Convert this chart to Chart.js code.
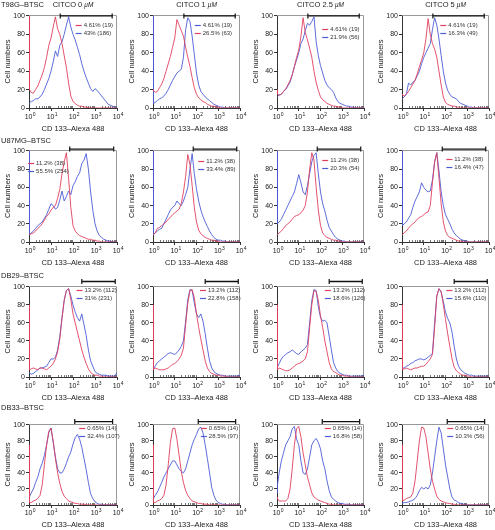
<!DOCTYPE html>
<html>
<head>
<meta charset="utf-8">
<script src="https://cdn.jsdelivr.net/npm/chart.js@4.4.1/dist/chart.umd.min.js"></script>
<style>
	body { margin: 0; background: #fff; width: 495px; height: 530px; position: relative; overflow: hidden; font-family: "Liberation Sans", Arial, sans-serif; color: #222; }
	canvas { position: absolute; }
	.lbl { position: absolute; font-size: 7.5px; white-space: nowrap; }
	.col { transform: translateX(-50%); }
	.mu { font-size: 6.5px; font-style: italic; }
</style>
</head>
<body>
<script>
// log10 of the fluorescence, the x position of every histogram point
const logX = [0, 0.02, 0.1, 0.2, 0.3, 0.4, 0.5, 0.6, 0.7, 0.8, 0.9, 1.0,
	1.1, 1.2, 1.3, 1.4, 1.5, 1.6, 1.7, 1.8, 1.9, 2.0,
	2.1, 2.2, 2.3, 2.4, 2.5, 2.6, 2.7, 2.8, 2.9, 3.0,
	3.1, 3.2, 3.3, 3.4, 3.5, 3.6, 3.7, 3.8, 3.9, 4.0];
const xTicks = [0, 1, 2, 3, 4];
const yTicks = [0, 20, 40, 60, 80, 100];
const rowNames = ['T98G–BTSC', 'U87MG–BTSC', 'DB29–BTSC', 'DB33–BTSC'];
const doses = ['0', '1', '2.5', '5'];

const t98gRed0 = [100, 20, 17, 16, 20, 24, 30, 36, 44, 55, 68, 76, 88, 99, 86, 80, 70, 57, 44, 27, 13, 7, 5, 3, 2, 2, 1, 1, 0.5, 0, 0, 0, 0, 0, 0, 0, 0, 0, 0, 0, 0, 0];
const t98gBlue0 = [5, 5, 7, 8, 10, 10, 12, 15, 20, 26, 32, 40, 50, 62, 56, 68, 72, 80, 90, 99, 88, 80, 74, 66, 58, 48, 40, 33, 27, 21, 18, 21, 19, 16, 13, 10, 7, 4, 3, 2, 1, 1];
const t98gRed1 = [20, 19, 17, 18, 22, 26, 32, 40, 48, 56, 66, 76, 96, 90, 84, 78, 66, 55, 45, 33, 22, 15, 11, 9, 7, 6, 4, 3, 2, 2, 1, 1, 0, 0, 0, 0, 0, 0, 0, 0, 0, 0];
const t98gBlue1 = [100, 5, 6, 8, 10, 11, 13, 16, 20, 25, 30, 34, 38, 40, 42, 55, 85, 98, 94, 78, 58, 38, 25, 18, 15, 12, 10, 8, 6, 4, 3, 2, 1, 1, 0, 0, 0, 0, 0, 0, 0, 0];
const t98gRed2 = [20, 15, 14, 15, 18, 21, 25, 30, 36, 45, 55, 63, 78, 98, 82, 74, 65, 55, 40, 28, 19, 12, 9, 7, 5, 4, 3, 2, 2, 1, 1, 0, 0, 0, 0, 0, 0, 0, 0, 0, 0, 0];
const t98gBlue2 = [12, 12, 14, 15, 18, 20, 24, 28, 36, 45, 52, 60, 70, 75, 84, 92, 90, 94, 99, 72, 57, 46, 38, 30, 25, 22, 20, 17, 11, 7, 5, 4, 3, 2, 2, 1, 1, 0, 0, 0, 0, 0];
const t98gRed3 = [15, 14, 13, 15, 18, 22, 26, 30, 37, 45, 52, 60, 75, 97, 80, 70, 64, 55, 40, 25, 12, 6, 4, 3, 2, 2, 1, 1, 0, 0, 0, 0, 0, 0, 0, 0, 0, 0, 0, 0, 0, 0];
const t98gBlue3 = [10, 10, 12, 15, 27, 25, 28, 30, 35, 40, 48, 55, 60, 65, 70, 85, 98, 90, 75, 57, 40, 27, 19, 15, 12, 11, 10, 7, 5, 4, 3, 2, 1, 1, 0, 0, 0, 0, 0, 0, 0, 0];

const u87Red0 = [8, 8, 9, 10, 12, 15, 17, 20, 24, 28, 31, 35, 38, 40, 48, 58, 75, 88, 98, 70, 38, 18, 12, 9, 7, 6, 5, 4, 3, 3, 2, 2, 1, 1, 0, 0, 0, 0, 0, 0, 0, 0];
const u87Blue0 = [100, 8, 10, 12, 15, 18, 20, 22, 26, 30, 36, 42, 40, 36, 38, 46, 56, 45, 50, 56, 52, 62, 66, 72, 76, 86, 90, 97, 80, 55, 35, 20, 12, 7, 5, 3, 2, 1, 1, 0, 0, 0];
const u87Red1 = [8, 8, 10, 15, 16, 18, 20, 22, 25, 27, 30, 32, 34, 36, 42, 55, 72, 96, 85, 62, 38, 22, 13, 9, 7, 5, 4, 3, 2, 2, 1, 1, 0, 0, 0, 0, 0, 0, 0, 0, 0, 0];
const u87Blue1 = [100, 8, 10, 12, 14, 15, 20, 25, 30, 35, 38, 40, 45, 42, 40, 45, 52, 60, 80, 97, 75, 58, 45, 35, 28, 22, 17, 12, 8, 5, 3, 2, 2, 1, 1, 0, 0, 0, 0, 0, 0, 0];
const u87Red2 = [8, 8, 10, 12, 15, 18, 20, 22, 25, 28, 29, 30, 32, 35, 40, 55, 80, 98, 90, 60, 35, 18, 10, 7, 5, 4, 3, 2, 2, 1, 1, 0, 0, 0, 0, 0, 0, 0, 0, 0, 0, 0];
const u87Blue2 = [100, 20, 22, 25, 30, 35, 40, 45, 50, 55, 64, 74, 65, 55, 52, 62, 75, 88, 95, 98, 75, 55, 42, 34, 24, 16, 12, 8, 5, 3, 2, 1, 1, 0, 0, 0, 0, 0, 0, 0, 0, 0];
const u87Red3 = [8, 8, 10, 12, 15, 18, 20, 22, 25, 27, 28, 30, 32, 33, 40, 65, 88, 98, 70, 42, 22, 12, 7, 5, 4, 3, 2, 1, 1, 0, 0, 0, 0, 0, 0, 0, 0, 0, 0, 0, 0, 0];
const u87Blue3 = [100, 18, 20, 22, 26, 30, 38, 45, 50, 55, 65, 60, 57, 55, 56, 68, 88, 98, 78, 55, 40, 30, 25, 20, 14, 10, 7, 5, 3, 2, 1, 1, 0, 0, 0, 0, 0, 0, 0, 0, 0, 0];

const db29Red0 = [80, 8, 9, 10, 9, 8, 10, 10, 9, 8, 10, 12, 15, 20, 28, 42, 65, 85, 96, 98, 86, 70, 60, 50, 40, 30, 22, 15, 9, 5, 3, 2, 2, 1, 1, 0, 0, 0, 0, 0, 0, 0];
const db29Blue0 = [5, 5, 3, 4, 6, 8, 10, 10, 11, 12, 16, 20, 20, 22, 30, 45, 66, 85, 96, 98, 90, 80, 72, 66, 62, 70, 58, 46, 30, 18, 12, 6, 4, 3, 2, 2, 2, 1, 1, 1, 1, 5];
const db29Red1 = [80, 8, 10, 9, 8, 8, 8, 9, 10, 12, 14, 15, 17, 20, 24, 32, 58, 82, 96, 97, 88, 70, 55, 42, 30, 18, 10, 6, 4, 3, 2, 2, 1, 1, 1, 0, 0, 0, 0, 0, 0, 0];
const db29Blue1 = [8, 8, 12, 16, 18, 20, 22, 24, 26, 27, 26, 25, 27, 30, 34, 40, 62, 86, 97, 96, 82, 70, 66, 70, 62, 48, 32, 18, 10, 6, 4, 3, 2, 2, 1, 1, 1, 1, 1, 1, 1, 2];
const db29Red2 = [80, 8, 10, 9, 8, 7, 7, 8, 10, 12, 14, 15, 16, 18, 20, 28, 55, 80, 96, 95, 85, 68, 55, 40, 28, 16, 9, 6, 5, 3, 2, 2, 1, 1, 1, 0, 0, 0, 0, 0, 0, 0];
const db29Blue2 = [10, 10, 15, 20, 23, 25, 27, 28, 30, 28, 26, 25, 28, 30, 32, 36, 60, 85, 97, 96, 78, 66, 62, 63, 60, 45, 30, 16, 10, 6, 4, 3, 2, 2, 1, 1, 1, 1, 1, 1, 1, 2];
const db29Red3 = [80, 8, 9, 10, 9, 8, 9, 10, 10, 11, 12, 12, 14, 17, 20, 25, 55, 90, 98, 95, 80, 64, 48, 34, 20, 11, 7, 5, 3, 2, 2, 1, 1, 0, 0, 0, 0, 0, 0, 0, 0, 0];
const db29Blue3 = [10, 10, 10, 12, 13, 15, 16, 18, 19, 20, 20, 19, 20, 22, 24, 26, 60, 90, 98, 94, 84, 72, 65, 60, 50, 34, 20, 12, 8, 6, 4, 3, 2, 2, 1, 1, 1, 1, 1, 1, 1, 1];

const db33Red0 = [75, 3, 3, 5, 6, 8, 12, 25, 50, 75, 92, 96, 80, 58, 40, 27, 17, 11, 8, 5, 4, 3, 2, 2, 1, 1, 1, 0, 0, 0, 0, 0, 0, 0, 0, 0, 0, 0, 0, 0, 0, 0];
const db33Blue0 = [30, 10, 15, 20, 28, 35, 45, 52, 62, 75, 90, 96, 78, 60, 45, 40, 40, 45, 52, 60, 66, 76, 84, 88, 82, 72, 58, 44, 28, 14, 8, 4, 2, 1, 1, 0, 0, 0, 0, 0, 0, 0];
const db33Red1 = [75, 3, 3, 5, 6, 8, 12, 25, 50, 78, 95, 96, 82, 62, 42, 28, 18, 12, 8, 5, 4, 3, 2, 2, 1, 1, 1, 0, 0, 0, 0, 0, 0, 0, 0, 0, 0, 0, 0, 0, 0, 0];
const db33Blue1 = [20, 8, 12, 16, 22, 28, 35, 40, 45, 50, 55, 55, 50, 45, 42, 40, 45, 55, 65, 75, 82, 88, 95, 97, 90, 75, 58, 40, 22, 12, 6, 3, 2, 1, 1, 0, 0, 0, 0, 0, 0, 0];
const db33Red2 = [10, 8, 5, 5, 5, 5, 8, 20, 45, 75, 95, 98, 85, 65, 50, 35, 25, 15, 10, 8, 6, 5, 4, 3, 2, 1, 1, 0, 0, 0, 0, 0, 0, 0, 0, 0, 0, 0, 0, 0, 0, 0];
const db33Blue2 = [15, 25, 40, 55, 65, 75, 80, 85, 95, 98, 82, 75, 55, 40, 38, 45, 60, 75, 80, 83, 78, 70, 55, 45, 30, 18, 10, 7, 5, 3, 2, 2, 1, 1, 1, 0, 0, 0, 0, 0, 0, 0];
const db33Red3 = [75, 5, 6, 8, 9, 10, 15, 30, 55, 80, 97, 96, 85, 65, 45, 30, 20, 11, 7, 5, 4, 3, 2, 2, 1, 1, 0, 0, 0, 0, 0, 0, 0, 0, 0, 0, 0, 0, 0, 0, 0, 0];
const db33Blue3 = [2, 2, 3, 3, 4, 5, 6, 8, 12, 18, 22, 20, 22, 20, 25, 40, 60, 80, 97, 90, 70, 50, 35, 20, 10, 6, 5, 3, 2, 1, 1, 0, 0, 0, 0, 0, 0, 0, 0, 0, 0, 0];

// gated percentages, first line is the control
const t98gPct = [['4.61% (19)', '43% (186)'], ['4.61% (19)', '26.5% (63)'], ['4.61% (19)', '21.9% (56)'], ['4.61% (19)', '16.3% (49)']];
const u87Pct = [['11.2% (38)', '55.5% (254)'], ['11.2% (38)', '33.4% (89)'], ['11.2% (38)', '20.3% (54)'], ['11.2% (38)', '16.4% (47)']];
const db29Pct = [['13.2% (112)', '31% (231)'], ['13.2% (112)', '22.8% (158)'], ['13.2% (112)', '18.6% (126)'], ['13.2% (112)', '15.6% (110)']];
const db33Pct = [['0.65% (14)', '32.4% (107)'], ['0.65% (14)', '28.5% (97)'], ['0.65% (14)', '16.8% (58)'], ['0.65% (14)', '10.3% (56)']];

// gate bar per row: from, to (log units), height
const gateFrom = [1.42, 1.85, 2.4, 2.08];
const gateTo = [3.78, 3.85, 3.92, 3.8];
const gateY = [100, 102, 106, 104];

const RED = '#e0405e';
const BLUE = '#4c5bd6';

const series = [
	[[t98gRed0, t98gBlue0], [t98gRed1, t98gBlue1], [t98gRed2, t98gBlue2], [t98gRed3, t98gBlue3]],
	[[u87Red0, u87Blue0], [u87Red1, u87Blue1], [u87Red2, u87Blue2], [u87Red3, u87Blue3]],
	[[db29Red0, db29Blue0], [db29Red1, db29Blue1], [db29Red2, db29Blue2], [db29Red3, db29Blue3]],
	[[db33Red0, db33Blue0], [db33Red1, db33Blue1], [db33Red2, db33Blue2], [db33Red3, db33Blue3]]
];
const pcts = [t98gPct, u87Pct, db29Pct, db33Pct];

// page layout of the plot boxes
const plotLeft = [29, 153, 277, 402];
const plotRight = [117, 240, 364, 489];
const plotTop = [15, 150, 286, 424];
const plotBottom = [108, 242, 377, 505];
const xAxisH = [26, 26, 26, 25];
const legendFx = [[0.53, 0.48, 0.52, 0.44], [-0.01, 0.52, 0.52, 0.51], [0.54, 0.54, 0.55, 0.51], [0.57, 0.55, 0.55, 0.52]];
const legendOy = [[10, 10, 14, 10], [13, 11, 10, 9], [4, 4, 4, 4], [4, 4, 4, 4]];

const FONT = '"Liberation Sans", Arial, sans-serif';
const PAD_R = 12;

const panelDeco = {
	id: 'panelDeco',
	beforeDatasetsDraw(chart) {
		const { ctx, chartArea: a } = chart;
		ctx.save();
		ctx.strokeStyle = '#999';
		ctx.lineWidth = 1;
		ctx.beginPath();
		ctx.moveTo(a.left, a.top + 0.5);
		ctx.lineTo(a.right - 0.5, a.top + 0.5);
		ctx.lineTo(a.right - 0.5, a.bottom);
		ctx.stroke();
		// minor log ticks on the inside of the x axis
		const xs = chart.scales.x;
		ctx.strokeStyle = '#555';
		ctx.lineWidth = 0.8;
		ctx.beginPath();
		for (let d = 0; d < 4; d++) {
			for (let m = 2; m < 10; m++) {
				const px = Math.round(xs.getPixelForValue(d + Math.log10(m))) + 0.5;
				ctx.moveTo(px, a.bottom);
				ctx.lineTo(px, a.bottom - 2);
			}
		}
		ctx.stroke();
		ctx.restore();
	},
	afterDraw(chart, args, opts) {
		const { ctx, chartArea: a } = chart;
		ctx.save();
		// decade labels: 10 with a raised exponent
		const xs = chart.scales.x;
		ctx.fillStyle = '#222';
		ctx.textBaseline = 'alphabetic';
		ctx.textAlign = 'left';
		xTicks.forEach(v => {
			ctx.font = '7px ' + FONT;
			const wb = ctx.measureText('10').width;
			ctx.font = '5px ' + FONT;
			const we = ctx.measureText(String(v)).width;
			const left = xs.getPixelForValue(v) - (wb + we) / 2 + 1;
			const base = a.bottom + opts.lblDy;
			ctx.font = '7px ' + FONT;
			ctx.fillText('10', left, base);
			ctx.font = '5px ' + FONT;
			ctx.fillText(String(v), left + wb + 0.3, base - 3.5);
		});

		const x0 = a.left + opts.fx * (a.right - a.left);
		ctx.font = '6px ' + FONT;
		ctx.textBaseline = 'middle';
		opts.items.forEach((it, i) => {
			const y = Math.round(a.top + opts.oy + i * 7.5) + 0.5;
			ctx.strokeStyle = it.color;
			ctx.lineWidth = 1.2;
			ctx.beginPath();
			ctx.moveTo(x0, y);
			ctx.lineTo(x0 + 6, y);
			ctx.stroke();
			ctx.fillStyle = '#333';
			ctx.fillText(it.text, x0 + 8, y);
		});
		ctx.restore();
	}
};

function toPoints(vals) {
	return logX.map((x, i) => ({ x: x, y: vals[i] }));
}

function makePanel(r, c) {
	const canvas = document.createElement('canvas');
	const w = plotRight[c] - plotLeft[c] + 30 + PAD_R;
	const h = plotBottom[r] - plotTop[r] + 8 + xAxisH[r];
	canvas.width = w;
	canvas.height = h;
	canvas.style.left = (plotLeft[c] - 30) + 'px';
	canvas.style.top = (plotTop[r] - 8) + 'px';
	document.body.appendChild(canvas);

	const [red, blue] = series[r][c];
	// the 1 uM T98G panel has its legend markers swapped in the original
	const colors = (r === 0 && c === 1) ? [BLUE, RED] : [RED, BLUE];
	const tickFont = { family: FONT, size: 7 };

	new Chart(canvas, {
		type: 'line',
		data: {
			datasets: [
				{ data: toPoints(red), borderColor: RED, borderWidth: 0.9, pointRadius: 0, tension: 0 },
				{ data: toPoints(blue), borderColor: BLUE, borderWidth: 0.9, pointRadius: 0, tension: 0 },
				{
					data: [{ x: gateFrom[r], y: gateY[r] }, { x: gateTo[r], y: gateY[r] }],
					borderColor: '#111', borderWidth: 1.3, clip: false,
					pointStyle: 'line', rotation: 90, pointRadius: 2.5, pointBorderWidth: 1.2, pointBorderColor: '#111'
				}
			]
		},
		options: {
			responsive: false,
			animation: false,
			events: [],
			layout: { padding: { top: 8, right: PAD_R, left: 0, bottom: 0 } },
			plugins: {
				legend: { display: false },
				tooltip: { enabled: false },
				panelDeco: {
					fx: legendFx[r][c],
					oy: legendOy[r][c],
					lblDy: r === 3 ? 10 : 11,
					items: [{ text: pcts[r][c][0], color: colors[0] }, { text: pcts[r][c][1], color: colors[1] }]
				}
			},
			scales: {
				x: {
					type: 'linear', min: 0, max: 4,
					afterBuildTicks: s => { s.ticks = xTicks.map(v => ({ value: v })); },
					afterFit: s => { s.height = xAxisH[r]; },
					ticks: { display: false },
					grid: { drawOnChartArea: false, tickLength: 3, color: '#333' },
					border: { color: '#333', width: 1 },
					title: { display: true, text: 'CD 133–Alexa 488', font: { family: FONT, size: 7.5 }, color: '#222', padding: { top: 0, bottom: 1 } }
				},
				y: {
					min: 0, max: 101,
					afterBuildTicks: s => { s.ticks = yTicks.map(v => ({ value: v })); },
					afterFit: s => { s.width = 30; },
					ticks: { font: tickFont, color: '#222', padding: 1 },
					grid: { drawOnChartArea: false, tickLength: 3, color: '#333' },
					border: { color: '#333', width: 1 },
					title: { display: true, text: 'Cell numbers', font: { family: FONT, size: 7.5 }, color: '#222', padding: { top: 4, bottom: 2 } }
				}
			}
		},
		plugins: [panelDeco]
	});
}

function addLabel(html, x, y, cls) {
	const d = document.createElement('div');
	d.className = 'lbl' + (cls ? ' ' + cls : '');
	d.innerHTML = html;
	d.style.left = x + 'px';
	d.style.top = y + 'px';
	document.body.appendChild(d);
}

document.addEventListener('DOMContentLoaded', () => {
	for (let r = 0; r < 4; r++) {
		for (let c = 0; c < 4; c++) {
			makePanel(r, c);
		}
	}
	const rowLabelTop = [0, 136, 271, 403];
	rowNames.forEach((name, r) => addLabel(name, 1, rowLabelTop[r]));
	doses.forEach((d, c) => {
		addLabel('CITCO ' + d + ' <span class="mu">μM</span>', (plotLeft[c] + plotRight[c]) / 2, 0, 'col');
	});
});
</script>
</body>
</html>
